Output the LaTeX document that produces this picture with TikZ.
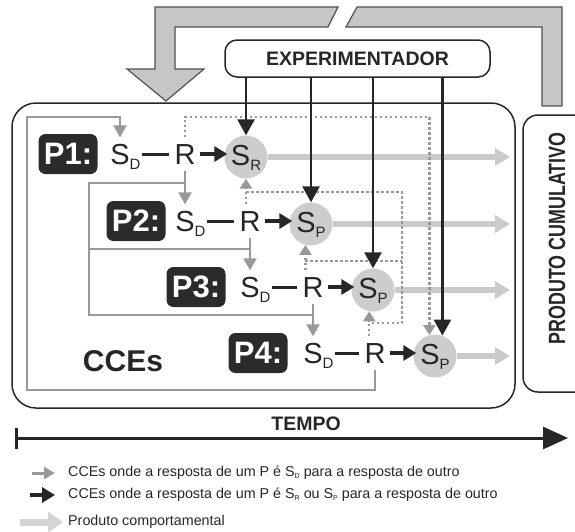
\documentclass[tikz,border=0pt]{standalone}
\usepackage{fontspec}
\setmainfont{Liberation Sans}
\usetikzlibrary{arrows.meta}
\definecolor{pdark}{HTML}{2B2B2B}
\definecolor{circg}{HTML}{CDCDCD}
\definecolor{prodg}{HTML}{CACACA}
\definecolor{midg}{HTML}{999999}
\definecolor{bigg}{HTML}{C6C6C6}
\definecolor{ink}{HTML}{262626}
\newcommand{\sbs}[1]{\raisebox{-5pt}{\fontsize{15}{15}\selectfont #1}}
\newcommand{\lsb}[1]{\raisebox{-2pt}{\fontsize{7}{7}\selectfont #1}}
\tikzset{
  rowtxt/.style={font=\fontsize{29}{29}\selectfont, text=ink, text height=21pt, text depth=0pt, inner xsep=0pt, inner ysep=6pt},
  pbox/.style={fill=pdark, rounded corners=7pt, minimum width=59pt, minimum height=40pt, text=white, font=\bfseries\fontsize{31}{31}\selectfont, inner sep=0pt},
  spc/.style={circle, fill=circg, minimum size=43pt, inner sep=0pt, font=\fontsize{29}{29}\selectfont, text=ink, text height=21pt, text depth=5pt},
  gry/.style={draw=midg, line width=2.4pt},
  gryarr/.style={gry, -{Triangle[length=12pt,width=13pt]}},
  dots/.style={draw=midg, line width=2.5pt, dash pattern=on 2.5pt off 2.5pt},
  dotarr/.style={dots, -{Triangle[length=10pt,width=12pt]}},
  blk/.style={draw=ink, line width=3.2pt, -{Triangle[length=13pt,width=15pt]}},
  expar/.style={draw=ink, line width=2.6pt, -{Triangle[length=16pt,width=17pt]}},
  prodarr/.style={draw=prodg, line width=5.5pt, -{Triangle[length=15pt,width=17pt]}},
  dashln/.style={draw=ink, line width=3pt},
  frame/.style={draw=ink, line width=1.5pt, inner sep=0pt},
  legtxt/.style={font=\fontsize{14.3}{15}\selectfont, text=ink, anchor=west, inner sep=0pt},
}
\begin{document}
\begin{tikzpicture}[x=1pt,y=-1pt]
\useasboundingbox (0,0) rectangle (575,531);
% big feedback arrow
\draw[fill=bigg, draw=ink!80, line width=1.2pt, line join=miter]
  (338,7) -- (155,7) -- (155,69) -- (127,69) -- (166,101) -- (204,69) -- (175,69) -- (175,27) -- (328,27) -- cycle;
\draw[fill=bigg, draw=ink!80, line width=1.2pt, line join=miter]
  (357,7) -- (562,7) -- (562,106) -- (542,106) -- (542,27) -- (346,27) -- cycle;
% frames
\node[frame, rounded corners=24pt, minimum width=503pt, minimum height=305pt] (main) at (263.5,255.5) {};
\node[frame, rounded corners=15pt, minimum width=77pt, minimum height=277pt] (prod) at (561.5,253.5) {};
\node[rotate=90, font=\bfseries\fontsize{23.5}{24}\selectfont, text=ink] (prodtxt) at (557,238.5) {\scalebox{0.76}[1]{PRODUTO CUMULATIVO}};
\node[frame, rounded corners=12pt, minimum width=265pt, minimum height=37pt, font=\bfseries\fontsize{19.5}{20}\selectfont, text=ink] (exp) at (357.5,58.5) {EXPERIMENTADOR};
% rows
\node[pbox] (p1) at (68,154) {P1:};
\node[rowtxt] (sd1) at (120,154) {S\rlap{\sbs{D}}};
\node[rowtxt] (r1) at (185,154) {R};
\node[spc] (s1) at (246,157) {S\sbs{R}};
\node[pbox] (p2) at (136,221) {P2:};
\node[rowtxt] (sd2) at (185,221) {S\rlap{\sbs{D}}};
\node[rowtxt] (r2) at (250,221) {R};
\node[spc] (s2) at (311,224) {S\sbs{P}};
\node[pbox] (p3) at (196,287) {P3:};
\node[rowtxt] (sd3) at (250,287) {S\rlap{\sbs{D}}};
\node[rowtxt] (r3) at (313,287) {R};
\node[spc] (s3) at (373,290) {S\sbs{P}};
\node[pbox] (p4) at (258,353) {P4:};
\node[rowtxt] (sd4) at (313,353) {S\rlap{\sbs{D}}};
\node[rowtxt] (r4) at (375,353) {R};
\node[spc] (s4) at (435,356) {S\sbs{P}};
\node[font=\bfseries\fontsize{30}{30}\selectfont, text=ink] (cces) at (123,361) {CCEs};
% coordinates
\coordinate (pe) at (510,0);
\coordinate (gL1) at (89,183);
\coordinate (gL2) at (89,249);
\coordinate (gL3) at (89,315);
\coordinate (gOutB) at (27,390);
\coordinate (gOutT) at (27,117);
\coordinate (dTop) at (0,117);
\coordinate (dB1) at (402,192);
\coordinate (dB2) at (402,261);
\coordinate (dB3) at (402,323);
% product arrows
\foreach \s in {s1,s2,s3,s4} \draw[prodarr] (\s.east) -- (\s.east -| pe);
% dashes and R->S arrows
\foreach \a/\b/\c in {sd1/r1/s1, sd2/r2/s2, sd3/r3/s3, sd4/r4/s4} {
  \draw[dashln, shorten <=12.5pt, shorten >=5pt] (\a.east) -- (\b.west);
  \draw[blk, shorten <=4pt, shorten >=-3pt] (\b.east) -- (\b.east -| \c.west);
}
% grey solid connectors
\draw[gryarr] (r1.south) -- (sd2.north);
\draw[gryarr] (r2.south) -- (sd3.north);
\draw[gryarr] (r3.south) -- (sd4.north);
\draw[gry] (gL1 -| r1) -- (gL1) -- (gL3) -- (gL3 -| r3);
\draw[gry] (gL2) -- (gL2 -| r2);
\draw[gryarr] (r4.south) |- (gOutB) -- (gOutT) -| (sd1.north);
% dotted connectors
\draw[dotarr] (r1.north) |- (dTop -| s4.105) -- (s4.105);
\draw[dotarr] (r2.north -| s1.south) -- (s1.south);
\draw[dotarr] (r3.north -| s2.255) -- (s2.255);
\draw[dotarr] (r4.north -| s3.260) -- (s3.260);
\draw[dots] (dB1 -| s1.south) -- (dB1) -- (dB3) -- (dB3 -| s3.260);
\draw[dots] (dB2 -| s2.255) -- (dB2);
% experimenter arrows
\draw[expar] (exp.south -| s1.north) -- (s1.north);
\draw[expar] (exp.south -| s2.north) -- (s2.north);
\draw[expar] (exp.south -| s3.north) -- (s3.north);
\draw[expar] (exp.south -| s4.70) -- (s4.70);
% time
\node[font=\bfseries\fontsize{19.5}{20}\selectfont, text=ink] (tempo) at (306,424) {TEMPO};
\coordinate (t0) at (15,438);
\coordinate (t1) at (568,438);
\draw[draw=ink, line width=3pt, {Bar[width=21pt,line width=3pt]}-{Triangle[length=25pt,width=22pt]}] (t0) -- (t1);
% legend
\node[legtxt] (lt1) at (68,473) {CCEs onde a resposta de um P é S\lsb{D} para a resposta de outro};
\node[legtxt] (lt2) at (68,495) {CCEs onde a resposta de um P é S\lsb{R} ou S\lsb{P} para a resposta de outro};
\node[legtxt] (lt3) at (68,522) {Produto comportamental};
\coordinate (la1) at (32,473);
\coordinate (la2) at (30,495);
\coordinate (la3) at (20,522);
\draw[draw=midg, line width=3pt, -{Triangle[length=11pt,width=12pt]}, shorten >=13pt] (la1) -- (lt1.west);
\draw[draw=ink, line width=3.2pt, -{Triangle[length=13pt,width=15pt]}, shorten >=13pt] (la2) -- (lt2.west);
\draw[draw=prodg!80, line width=7pt, -{Triangle[length=15pt,width=20pt]}, shorten >=5pt] (la3) -- (lt3.west);
\end{tikzpicture}
\end{document}
